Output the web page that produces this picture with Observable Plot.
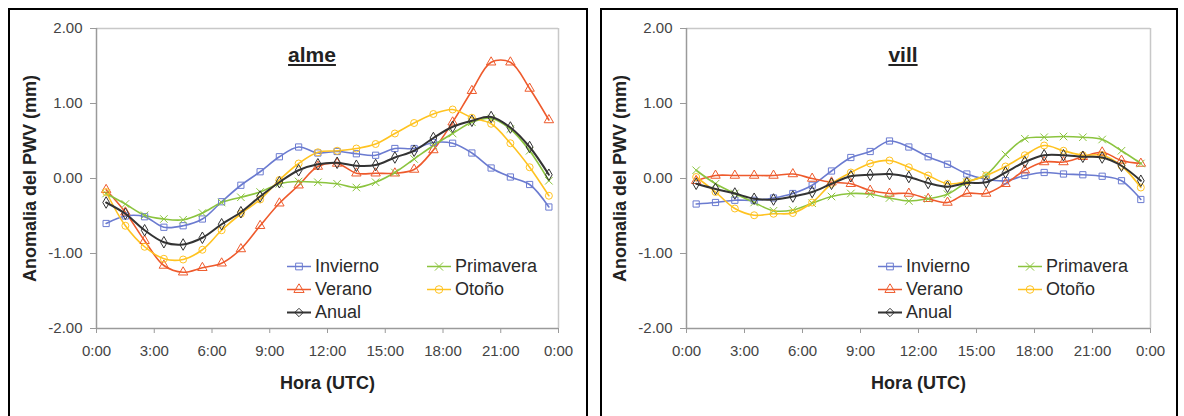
<!DOCTYPE html>
<html><head><meta charset="utf-8">
<script src="https://cdn.jsdelivr.net/npm/d3@7"></script>
<script src="https://cdn.jsdelivr.net/npm/@observablehq/plot@0.6"></script>
<style>
body{margin:0;background:#fff;width:1184px;height:416px;overflow:hidden;position:relative;font-family:Arial,"Liberation Sans",sans-serif;}
.panel{position:absolute;top:8px;height:420px;border:2px solid #000;box-sizing:border-box;}
.panel svg{position:absolute;left:0;top:0;}
.title{position:absolute;font-weight:bold;font-size:21px;text-decoration:underline;color:#222;transform:translate(-50%,-50%);white-space:nowrap;}
.leg{position:absolute;font-size:18px;color:#2a2a2a;display:flex;align-items:center;white-space:nowrap;transform:translateY(-50%);}
.leg svg{position:static;margin-right:4px;}
[aria-label="x-axis label"] text,[aria-label="y-axis label"] text{font-weight:bold;font-size:18px;fill:#222;}
[aria-label="x-axis tick label"] text,[aria-label="y-axis tick label"] text{fill:#444;}
</style></head><body>
<div id="p1" class="panel" style="left:8px;width:580px"></div>
<div id="p2" class="panel" style="left:600px;width:578px"></div>
<script>
const hours = [0.5,1.5,2.5,3.5,4.5,5.5,6.5,7.5,8.5,9.5,10.5,11.5,12.5,13.5,14.5,15.5,16.5,17.5,18.5,19.5,20.5,21.5,22.5,23.5];
const series = ["Invierno","Verano","Primavera","Otoño","Anual"];
const colors = ["#6b7bd0","#ee5a2c","#8bc43e","#ffc321","#333333"];
const symbols = ["square","triangle","times","circle","diamond"];
const xTicks = [0,3,6,9,12,15,18,21,24];
const xTickLabels = ["0:00","3:00","6:00","9:00","12:00","15:00","18:00","21:00","0:00"];
const yTicks = [-2,-1,0,1,2];
const yTickLabels = ["-2.00","-1.00","0.00","1.00","2.00"];
const stations = ["alme","vill"];

// alme
const almeInvierno  = [-0.60,-0.50,-0.51,-0.65,-0.63,-0.54,-0.31,-0.09,0.09,0.29,0.42,0.34,0.36,0.33,0.31,0.40,0.40,0.48,0.47,0.34,0.14,0.02,-0.08,-0.38];
const almeVerano    = [-0.15,-0.45,-0.83,-1.16,-1.25,-1.19,-1.13,-0.94,-0.63,-0.33,-0.09,0.16,0.20,0.07,0.07,0.07,0.12,0.38,0.75,1.17,1.55,1.55,1.20,0.78];
const almePrimavera = [-0.20,-0.34,-0.49,-0.54,-0.55,-0.46,-0.32,-0.25,-0.18,-0.07,-0.04,-0.05,-0.07,-0.12,-0.05,0.08,0.26,0.44,0.60,0.75,0.80,0.66,0.37,-0.03];
const almeOtono     = [-0.18,-0.63,-0.91,-1.07,-1.08,-0.95,-0.69,-0.47,-0.28,-0.02,0.20,0.35,0.37,0.40,0.46,0.60,0.74,0.86,0.92,0.81,0.73,0.47,0.15,-0.23];
const almeAnual     = [-0.32,-0.47,-0.69,-0.85,-0.88,-0.79,-0.61,-0.45,-0.24,-0.05,0.11,0.19,0.21,0.17,0.18,0.28,0.37,0.54,0.69,0.77,0.82,0.68,0.42,0.05];
// vill
const villInvierno  = [-0.34,-0.32,-0.29,-0.29,-0.26,-0.20,-0.09,0.10,0.28,0.36,0.50,0.42,0.29,0.19,0.06,-0.01,-0.03,0.04,0.08,0.06,0.05,0.03,-0.03,-0.28];
const villVerano    = [-0.03,0.04,0.04,0.04,0.04,0.06,0.00,-0.05,-0.07,-0.16,-0.20,-0.20,-0.27,-0.32,-0.20,-0.20,-0.07,0.11,0.22,0.22,0.29,0.35,0.24,0.20];
const villPrimavera = [0.11,-0.07,-0.20,-0.32,-0.43,-0.42,-0.33,-0.24,-0.20,-0.21,-0.26,-0.30,-0.27,-0.21,-0.05,0.05,0.32,0.53,0.55,0.56,0.55,0.52,0.37,0.20];
const villOtono     = [0.02,-0.18,-0.40,-0.49,-0.47,-0.46,-0.32,-0.07,0.08,0.20,0.24,0.15,0.04,-0.07,-0.04,0.04,0.16,0.31,0.44,0.37,0.31,0.31,0.17,-0.12];
const villAnual     = [-0.07,-0.14,-0.20,-0.27,-0.28,-0.24,-0.18,-0.07,0.03,0.05,0.06,0.02,-0.06,-0.11,-0.06,-0.05,0.08,0.22,0.31,0.31,0.29,0.28,0.17,-0.03];

const dataByStation = {
  alme: [almeInvierno, almeVerano, almePrimavera, almeOtono, almeAnual],
  vill: [villInvierno, villVerano, villPrimavera, villOtono, villAnual]
};

function rowsFor(st){
  const rows = [];
  dataByStation[st].forEach((vals, si) => vals.forEach((v, i) => rows.push({s: series[si], h: hours[i], v})));
  return rows;
}

function chart(st, w, ml, mr){
  const rows = rowsFor(st);
  const seasons = rows.filter(d => d.s !== "Anual");
  const anual = rows.filter(d => d.s === "Anual");
  return Plot.plot({
    width: w, height: 400,
    marginLeft: ml, marginRight: mr, marginTop: 18, marginBottom: 82,
    style: {fontFamily: "Arial, 'Liberation Sans', sans-serif", fontSize: "15px", color: "#444", background: "transparent", overflow: "visible"},
    x: {domain: [0, 24]},
    y: {domain: [-2, 2]},
    color: {domain: series, range: colors},
    symbol: {domain: series, range: symbols},
    marks: [
      Plot.ruleY([2], {stroke: "#c8c8c8", strokeWidth: 1.5}),
      Plot.ruleX([24], {stroke: "#c8c8c8", strokeWidth: 1.5}),
      Plot.ruleX([0], {stroke: "#9a9a9a", strokeWidth: 1.5}),
      Plot.ruleY([-2], {stroke: "#9a9a9a", strokeWidth: 1.5}),
      Plot.axisX({ticks: xTicks, tickFormat: d => xTickLabels[xTicks.indexOf(d)], tickSize: 5, tickPadding: 12, stroke: "#9a9a9a", strokeOpacity: 1,
        label: "Hora (UTC)", labelAnchor: "center", labelOffset: 60, labelArrow: "none"}),
      Plot.axisY({ticks: yTicks, tickFormat: d => yTickLabels[yTicks.indexOf(d)], tickSize: 6, tickPadding: 8, stroke: "#9a9a9a", strokeOpacity: 1,
        label: "Anomalia del PWV (mm)", labelAnchor: "center", labelOffset: 73, labelArrow: "none"}),
      Plot.line(seasons, {x: "h", y: "v", z: "s", stroke: "s", curve: "catmull-rom", strokeWidth: 1.6}),
      Plot.dot(seasons, {x: "h", y: "v", symbol: "s", stroke: "s", r: 3.5, strokeWidth: 1, fill: "none"}),
      Plot.line(anual, {x: "h", y: "v", stroke: "s", curve: "catmull-rom", strokeWidth: 2}),
      Plot.dot(anual, {x: "h", y: "v", symbol: "s", stroke: "s", r: 3.5, strokeWidth: 1, fill: "none"})
    ]
  });
}

function legend(panel, x1, x2, y0){
  const pos = [[x1,0],[x1,1],[x2,0],[x2,1],[x1,2]];
  series.forEach((s, i) => {
    const [x, r] = pos[i];
    const div = document.createElement("div");
    div.className = "leg";
    div.style.left = x + "px";
    div.style.top = (y0 + r * 23) + "px";
    const sw = d3.create("svg").attr("width", 24).attr("height", 12);
    sw.append("line").attr("x1", 0).attr("x2", 24).attr("y1", 6).attr("y2", 6).attr("stroke", colors[i]).attr("stroke-width", s === "Anual" ? 2 : 1.6);
    const sym = {square: d3.symbolSquare, triangle: d3.symbolTriangle, times: d3.symbolTimes, circle: d3.symbolCircle, diamond: d3.symbolDiamond2}[symbols[i]];
    sw.append("path").attr("d", d3.symbol(sym, 45)).attr("transform", "translate(12,6)").attr("fill", "none").attr("stroke", colors[i]).attr("stroke-width", 1);
    div.appendChild(sw.node());
    const t = document.createElement("span");
    t.textContent = s;
    div.appendChild(t);
    panel.appendChild(div);
  });
}

function title(panel, text, x, y){
  const d = document.createElement("div");
  d.className = "title";
  d.textContent = text;
  d.style.left = x + "px";
  d.style.top = y + "px";
  panel.appendChild(d);
}

const p1 = document.getElementById("p1");
const p2 = document.getElementById("p2");
p1.appendChild(chart("alme", 576, 86, 28));
p2.appendChild(chart("vill", 574, 84, 26));
title(p1, "alme", 302, 45);
title(p2, "vill", 301, 45);
legend(p1, 277, 417, 256);
legend(p2, 276, 416, 256);
</script>
</body></html>
